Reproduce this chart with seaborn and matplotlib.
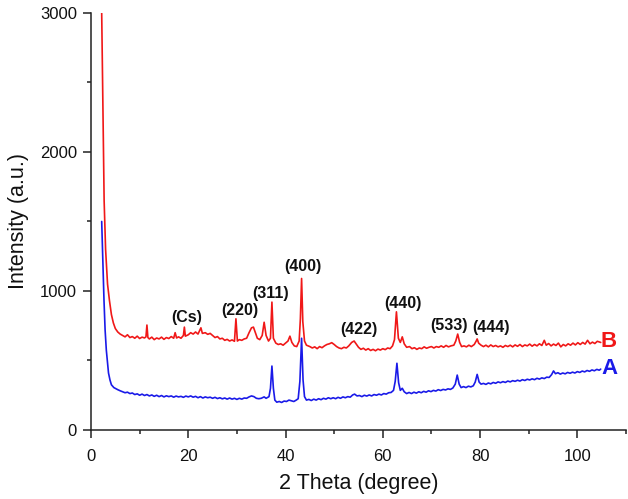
import matplotlib
matplotlib.use("Agg")
import matplotlib.pyplot as plt
import seaborn as sns
import pandas as pd
from matplotlib.ticker import MultipleLocator

# ---- data ----
b_theta = [2.2, 2.5, 2.7, 3.0, 3.4, 3.8, 4.2, 4.6, 5.0, 5.5,
           6.0, 6.5, 7.0, 7.5, 8.0, 8.5, 9.0, 9.5, 10.0, 10.5,
           11.0, 11.3, 11.5, 11.7, 12.0, 12.5, 13.0, 13.5, 14.0, 14.5,
           15.0, 15.5, 16.0, 16.5, 17.0, 17.3, 17.6, 18.0, 18.5, 19.0,
           19.2, 19.4, 20.0, 20.5, 21.0, 21.5, 22.0, 22.6, 22.9, 23.5,
           24.0, 24.5, 25.0, 25.5, 26.0, 26.5, 27.0, 27.5, 28.0, 28.5,
           29.0, 29.5, 29.8, 30.1, 30.5, 31.0, 31.5, 32.0, 32.5, 33.0,
           33.4, 33.8, 34.2, 34.7, 35.2, 35.6, 36.0, 36.5, 36.9, 37.2,
           37.5, 38.0, 38.5, 39.0, 39.5, 40.0, 40.5, 40.9, 41.3, 41.8,
           42.3, 42.8, 43.05, 43.3, 43.55, 43.9, 44.3, 45.0, 45.5, 46.0,
           46.5, 47.0, 47.5, 48.0, 48.5, 49.0, 49.5, 50.0, 50.5, 51.0,
           51.5, 52.0, 52.5, 53.0, 53.6, 54.1, 54.6, 55.0, 55.5, 56.0,
           56.5, 57.0, 57.5, 58.0, 58.5, 59.0, 59.5, 60.0, 60.5, 61.0,
           61.5, 62.0, 62.4, 62.8, 63.2, 63.6, 64.0, 64.4, 64.9, 65.5,
           66.0, 66.5, 67.0, 67.5, 68.0, 68.5, 69.0, 69.5, 70.0, 70.5,
           71.0, 71.5, 72.0, 72.5, 73.0, 73.5, 74.0, 74.6, 75.0, 75.4,
           75.8, 76.2, 76.7, 77.2, 77.7, 78.2, 78.8, 79.2, 79.4, 79.7,
           80.2, 80.7, 81.2, 81.7, 82.2, 82.7, 83.2, 83.7, 84.2, 84.7,
           85.2, 85.7, 86.2, 86.7, 87.2, 87.7, 88.2, 88.7, 89.2, 89.7,
           90.2, 90.7, 91.2, 91.7, 92.2, 92.7, 93.2, 93.6, 94.1, 94.6,
           95.1, 95.6, 96.1, 96.6, 97.1, 97.6, 98.1, 98.6, 99.1, 99.6,
           100.1, 100.6, 101.1, 101.6, 102.1, 102.6, 103.1, 103.6, 104.1, 104.8]
b_intensity = [3000, 2200, 1650, 1300, 1050, 930, 830, 770, 730, 705,
               690, 680, 670, 685, 665, 672, 660, 675, 658, 668,
               662, 670, 755, 665, 655, 668, 650, 662, 655, 668,
               652, 665, 658, 672, 660, 700, 662, 670, 660, 680,
               740, 675, 685, 700, 690, 705, 690, 735, 695, 700,
               688, 695, 680, 665, 672, 655, 660, 645, 652, 640,
               648, 638, 800, 640, 650, 645, 655, 660, 700, 735,
               740, 700, 660, 650, 680, 775, 680, 640, 660, 920,
               660, 625, 615, 620, 610, 625, 640, 675, 630, 605,
               600, 640, 800, 1090, 780, 640, 610, 600, 590, 598,
               585, 600, 592, 605, 615, 620, 628, 615, 600, 590,
               585, 595, 590, 605, 630, 640, 615, 595, 580, 588,
               575, 585, 572, 580, 570, 582, 575, 585, 578, 590,
               585, 605, 650, 850, 660, 630, 670, 620, 595, 600,
               585, 592, 580, 590, 585, 598, 588, 595, 600, 590,
               600, 595, 605, 595, 608, 598, 605, 610, 640, 690,
               630, 600, 605, 598, 610, 600, 615, 640, 655, 625,
               610, 600, 610, 598, 612, 600, 608, 598, 605, 595,
               608, 600, 610, 598, 612, 602, 615, 600, 612, 605,
               618, 603, 615, 605, 620, 608, 645, 610, 622, 605,
               618, 608, 625, 598, 615, 605, 620, 610, 625, 612,
               628, 615, 630, 618, 645, 620, 632, 622, 638, 630]

a_theta = [2.2, 2.4, 2.67, 2.9, 3.15, 3.4, 3.6, 3.9, 4.2, 4.7,
           5.5, 6.0, 6.5, 7.0, 7.5, 8.0, 8.5, 9.0, 9.5, 10.0,
           10.5, 11.0, 11.5, 12.0, 12.5, 13.0, 13.5, 14.0, 14.5, 15.0,
           15.5, 16.0, 16.5, 17.0, 17.5, 18.0, 18.5, 19.0, 19.5, 20.0,
           20.5, 21.0, 21.5, 22.0, 22.5, 23.0, 23.5, 24.0, 24.5, 25.0,
           25.5, 26.0, 26.5, 27.0, 27.5, 28.0, 28.5, 29.0, 29.5, 30.0,
           30.5, 31.0, 31.5, 32.0, 32.5, 33.0, 33.5, 34.0, 34.5, 35.0,
           35.6, 36.0, 36.6, 36.9, 37.2, 37.5, 37.8, 38.2, 38.7, 39.2,
           39.7, 40.2, 40.7, 41.2, 41.7, 42.2, 42.6, 42.95, 43.3, 43.6,
           43.9, 44.3, 44.8, 45.3, 45.8, 46.3, 46.8, 47.3, 47.8, 48.3,
           48.8, 49.3, 49.8, 50.3, 50.8, 51.3, 51.8, 52.3, 52.8, 53.3,
           53.8, 54.2, 54.7, 55.2, 55.7, 56.2, 56.7, 57.2, 57.7, 58.2,
           58.7, 59.2, 59.7, 60.2, 60.7, 61.2, 61.7, 62.2, 62.55, 62.9,
           63.25, 63.6, 64.0, 64.4, 64.9, 65.4, 65.9, 66.4, 66.9, 67.4,
           67.9, 68.4, 68.9, 69.4, 69.9, 70.4, 70.9, 71.4, 71.9, 72.4,
           72.9, 73.4, 73.9, 74.4, 74.9, 75.3, 75.7, 76.1, 76.6, 77.1,
           77.6, 78.1, 78.6, 79.0, 79.4, 79.8, 80.2, 80.7, 81.2, 81.7,
           82.2, 82.7, 83.2, 83.7, 84.2, 84.7, 85.2, 85.7, 86.2, 86.7,
           87.2, 87.7, 88.2, 88.7, 89.2, 89.7, 90.2, 90.7, 91.2, 91.7,
           92.2, 92.7, 93.2, 93.7, 94.2, 94.7, 95.1, 95.5, 96.0, 96.5,
           97.0, 97.5, 98.0, 98.5, 99.0, 99.5, 100.0, 100.5, 101.0, 101.5,
           102.0, 102.5, 103.0, 103.5, 104.0, 104.5, 104.8]
a_intensity = [1500, 1250, 935, 720, 575, 480, 410, 360, 325, 305,
               290, 282, 275, 268, 272, 262, 266, 255, 260, 250,
               258, 248, 255, 245, 252, 242, 250, 240, 248, 238,
               246, 240, 245, 236, 244, 238, 242, 235, 244, 238,
               245, 236, 242, 232, 240, 230, 238, 232, 236, 228,
               235, 226, 232, 224, 230, 222, 230, 222, 228, 220,
               228, 222, 230, 228, 238, 245, 240, 228, 225, 228,
               238, 228, 240, 300, 460, 300, 215, 200, 205, 198,
               208, 205, 215, 210, 205, 215, 225, 350, 660, 360,
               240, 215, 220, 212, 222, 215, 225, 218, 228, 222,
               232, 225, 232, 225, 235, 228, 238, 232, 240, 236,
               252, 258, 245, 248, 240, 250, 244, 252, 245, 255,
               250, 258, 252, 262, 258, 268, 270, 285, 350, 480,
               340, 285, 300, 275, 262, 270, 262, 272, 265, 275,
               268, 278, 272, 282, 276, 285, 280, 290, 284, 292,
               288, 296, 292, 302, 330, 395, 330, 305, 312, 305,
               315, 310, 318, 345, 400, 345, 330, 335, 328, 338,
               332, 342, 336, 346, 340, 348, 342, 352, 346, 355,
               350, 358, 352, 362, 356, 365, 360, 368, 362, 372,
               366, 375, 370, 380, 378, 398, 425, 405, 412, 402,
               410, 404, 414, 408, 416, 410, 420, 414, 424, 418,
               428, 422, 432, 426, 436, 430, 438]

peak_labels = ["(Cs)", "(220)", "(311)", "(400)", "(422)", "(440)", "(533)", "(444)"]
peak_label_x = [19.7, 30.5, 36.9, 43.5, 55.1, 64.1, 73.7, 82.3]
peak_label_y = [810, 863, 982, 1176, 720, 910, 755, 734]

series_names = ["B", "A"]

RED = "#f01818"
BLUE = "#1a1ae8"

assert len(b_theta) == len(b_intensity)
assert len(a_theta) == len(a_intensity)

df_b = pd.DataFrame({"theta": b_theta, "intensity": b_intensity})
df_a = pd.DataFrame({"theta": a_theta, "intensity": a_intensity})

sns.set_style("ticks")
plt.rcParams["font.family"] = ["Liberation Sans", "DejaVu Sans"]

fig = plt.figure(figsize=(6.28, 4.99), dpi=100)
ax = fig.add_axes([0.1449, 0.1383, 0.8519, 0.8357])

sns.lineplot(data=df_b, x="theta", y="intensity", ax=ax, color=RED,
             lw=1.2, sort=False, estimator=None)
sns.lineplot(data=df_a, x="theta", y="intensity", ax=ax, color=BLUE,
             lw=1.2, sort=False, estimator=None)

ax.set_xlim(0, 110)
ax.set_ylim(0, 3000)
ax.xaxis.set_major_locator(MultipleLocator(20))
ax.xaxis.set_minor_locator(MultipleLocator(10))
ax.yaxis.set_major_locator(MultipleLocator(1000))
ax.yaxis.set_minor_locator(MultipleLocator(500))

for side in ["top", "right"]:
    ax.spines[side].set_visible(False)
for side in ["left", "bottom"]:
    ax.spines[side].set_linewidth(1.1)
    ax.spines[side].set_color("#222222")

ax.tick_params(axis="both", which="major", direction="out", length=6,
               width=1.1, color="#222222", labelsize=12, labelcolor="#111111")
ax.tick_params(axis="both", which="minor", direction="out", length=3,
               width=1.1, color="#222222")
ax.tick_params(axis="x", which="major", pad=8)
ax.tick_params(axis="y", which="major", pad=4)

ax.set_xlabel("2 Theta (degree)", fontsize=15.5, color="#111111", labelpad=6)
ax.set_ylabel("Intensity (a.u.)", fontsize=15.5, color="#111111", labelpad=8)

for lab, px, py in zip(peak_labels, peak_label_x, peak_label_y):
    ax.text(px, py, lab, ha="center", va="center", fontsize=11.5,
            fontweight="bold", color="#111111")

ax.text(106.5, 640, series_names[0], ha="center", va="center",
        fontsize=16, fontweight="bold", color=RED)
ax.text(106.7, 445, series_names[1], ha="center", va="center",
        fontsize=16, fontweight="bold", color=BLUE)

fig.savefig("out.png", dpi=100)
